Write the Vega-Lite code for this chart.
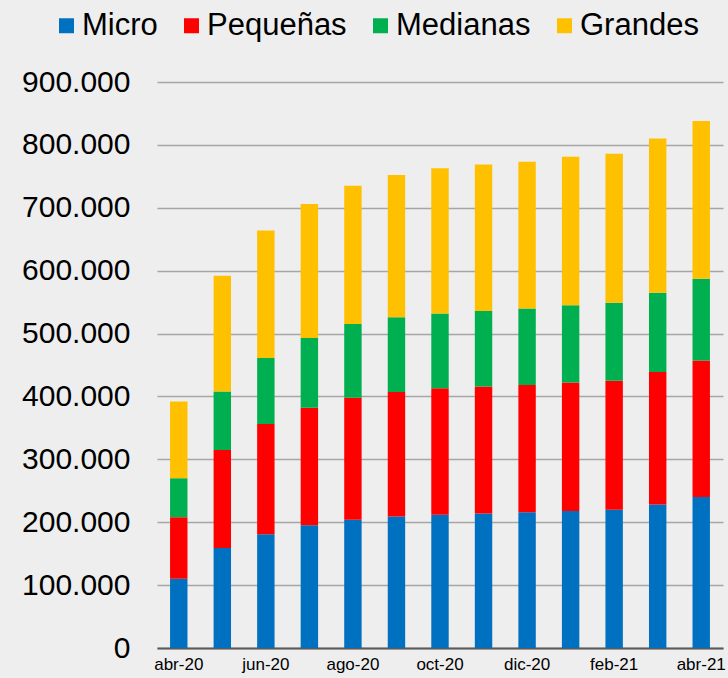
{
  "$schema": "https://vega.github.io/schema/vega-lite/v6.json",
  "width": 566,
  "height": 566,
  "autosize": {"type": "none"},
  "padding": {"left": 157, "top": 82, "right": 5, "bottom": 30},
  "background": "#eeeeee",
  "config": {
    "font": "Liberation Sans",
    "view": {"stroke": null}
  },
  "data": {
    "values": [
      {"mes": "abr-20", "tipo": "Micro", "orden": 1, "valor": 110000},
      {"mes": "abr-20", "tipo": "Pequeñas", "orden": 2, "valor": 98000},
      {"mes": "abr-20", "tipo": "Medianas", "orden": 3, "valor": 62000},
      {"mes": "abr-20", "tipo": "Grandes", "orden": 4, "valor": 122000},
      {"mes": "may-20", "tipo": "Micro", "orden": 1, "valor": 159000},
      {"mes": "may-20", "tipo": "Pequeñas", "orden": 2, "valor": 156000},
      {"mes": "may-20", "tipo": "Medianas", "orden": 3, "valor": 93000},
      {"mes": "may-20", "tipo": "Grandes", "orden": 4, "valor": 184000},
      {"mes": "jun-20", "tipo": "Micro", "orden": 1, "valor": 181000},
      {"mes": "jun-20", "tipo": "Pequeñas", "orden": 2, "valor": 175000},
      {"mes": "jun-20", "tipo": "Medianas", "orden": 3, "valor": 105000},
      {"mes": "jun-20", "tipo": "Grandes", "orden": 4, "valor": 203000},
      {"mes": "jul-20", "tipo": "Micro", "orden": 1, "valor": 195000},
      {"mes": "jul-20", "tipo": "Pequeñas", "orden": 2, "valor": 187000},
      {"mes": "jul-20", "tipo": "Medianas", "orden": 3, "valor": 111000},
      {"mes": "jul-20", "tipo": "Grandes", "orden": 4, "valor": 213000},
      {"mes": "ago-20", "tipo": "Micro", "orden": 1, "valor": 204000},
      {"mes": "ago-20", "tipo": "Pequeñas", "orden": 2, "valor": 194000},
      {"mes": "ago-20", "tipo": "Medianas", "orden": 3, "valor": 117000},
      {"mes": "ago-20", "tipo": "Grandes", "orden": 4, "valor": 220000},
      {"mes": "sep-20", "tipo": "Micro", "orden": 1, "valor": 209000},
      {"mes": "sep-20", "tipo": "Pequeñas", "orden": 2, "valor": 198000},
      {"mes": "sep-20", "tipo": "Medianas", "orden": 3, "valor": 119000},
      {"mes": "sep-20", "tipo": "Grandes", "orden": 4, "valor": 226000},
      {"mes": "oct-20", "tipo": "Micro", "orden": 1, "valor": 212000},
      {"mes": "oct-20", "tipo": "Pequeñas", "orden": 2, "valor": 201000},
      {"mes": "oct-20", "tipo": "Medianas", "orden": 3, "valor": 119000},
      {"mes": "oct-20", "tipo": "Grandes", "orden": 4, "valor": 231000},
      {"mes": "nov-20", "tipo": "Micro", "orden": 1, "valor": 214000},
      {"mes": "nov-20", "tipo": "Pequeñas", "orden": 2, "valor": 202000},
      {"mes": "nov-20", "tipo": "Medianas", "orden": 3, "valor": 120000},
      {"mes": "nov-20", "tipo": "Grandes", "orden": 4, "valor": 233000},
      {"mes": "dic-20", "tipo": "Micro", "orden": 1, "valor": 216000},
      {"mes": "dic-20", "tipo": "Pequeñas", "orden": 2, "valor": 202000},
      {"mes": "dic-20", "tipo": "Medianas", "orden": 3, "valor": 122000},
      {"mes": "dic-20", "tipo": "Grandes", "orden": 4, "valor": 233000},
      {"mes": "ene-21", "tipo": "Micro", "orden": 1, "valor": 218000},
      {"mes": "ene-21", "tipo": "Pequeñas", "orden": 2, "valor": 204000},
      {"mes": "ene-21", "tipo": "Medianas", "orden": 3, "valor": 123000},
      {"mes": "ene-21", "tipo": "Grandes", "orden": 4, "valor": 236000},
      {"mes": "feb-21", "tipo": "Micro", "orden": 1, "valor": 220000},
      {"mes": "feb-21", "tipo": "Pequeñas", "orden": 2, "valor": 205000},
      {"mes": "feb-21", "tipo": "Medianas", "orden": 3, "valor": 124000},
      {"mes": "feb-21", "tipo": "Grandes", "orden": 4, "valor": 237000},
      {"mes": "mar-21", "tipo": "Micro", "orden": 1, "valor": 228000},
      {"mes": "mar-21", "tipo": "Pequeñas", "orden": 2, "valor": 211000},
      {"mes": "mar-21", "tipo": "Medianas", "orden": 3, "valor": 126000},
      {"mes": "mar-21", "tipo": "Grandes", "orden": 4, "valor": 245000},
      {"mes": "abr-21", "tipo": "Micro", "orden": 1, "valor": 240000},
      {"mes": "abr-21", "tipo": "Pequeñas", "orden": 2, "valor": 217000},
      {"mes": "abr-21", "tipo": "Medianas", "orden": 3, "valor": 130000},
      {"mes": "abr-21", "tipo": "Grandes", "orden": 4, "valor": 251000}
    ]
  },
  "mark": {"type": "bar"},
  "encoding": {
    "x": {
      "field": "mes",
      "type": "nominal",
      "sort": null,
      "scale": {"paddingInner": 0.6, "paddingOuter": 0.3},
      "axis": {
        "title": null,
        "values": ["abr-20", "jun-20", "ago-20", "oct-20", "dic-20", "feb-21", "abr-21"],
        "labelAngle": 0,
        "labelFontSize": 17,
        "labelColor": "#000000",
        "labelPadding": 8,
        "ticks": false,
        "domainColor": "#595959",
        "domainWidth": 2,
        "grid": false
      }
    },
    "y": {
      "field": "valor",
      "type": "quantitative",
      "stack": "zero",
      "scale": {"domain": [0, 900000]},
      "axis": {
        "title": null,
        "values": [0, 100000, 200000, 300000, 400000, 500000, 600000, 700000, 800000, 900000],
        "labelExpr": "datum.value == 0 ? '0' : format(datum.value / 1000, 'd') + '.000'",
        "labelFontSize": 30,
        "labelColor": "#000000",
        "labelPadding": 27,
        "ticks": false,
        "domain": false,
        "grid": true,
        "gridColor": "#a6a6a6",
        "gridWidth": 1.5
      }
    },
    "color": {
      "field": "tipo",
      "type": "nominal",
      "scale": {
        "domain": ["Micro", "Pequeñas", "Medianas", "Grandes"],
        "range": ["#0070C0", "#FF0000", "#00B050", "#FFC000"]
      },
      "legend": {
        "title": null,
        "orient": "none",
        "direction": "horizontal",
        "legendX": -106,
        "legendY": -72,
        "symbolType": "square",
        "symbolSize": 225,
        "symbolStrokeWidth": 0,
        "labelFontSize": 31,
        "labelColor": "#000000",
        "labelOffset": 0,
        "columnPadding": 18,
        "labelLimit": 300
      }
    },
    "order": {"field": "orden", "type": "quantitative"}
  }
}
